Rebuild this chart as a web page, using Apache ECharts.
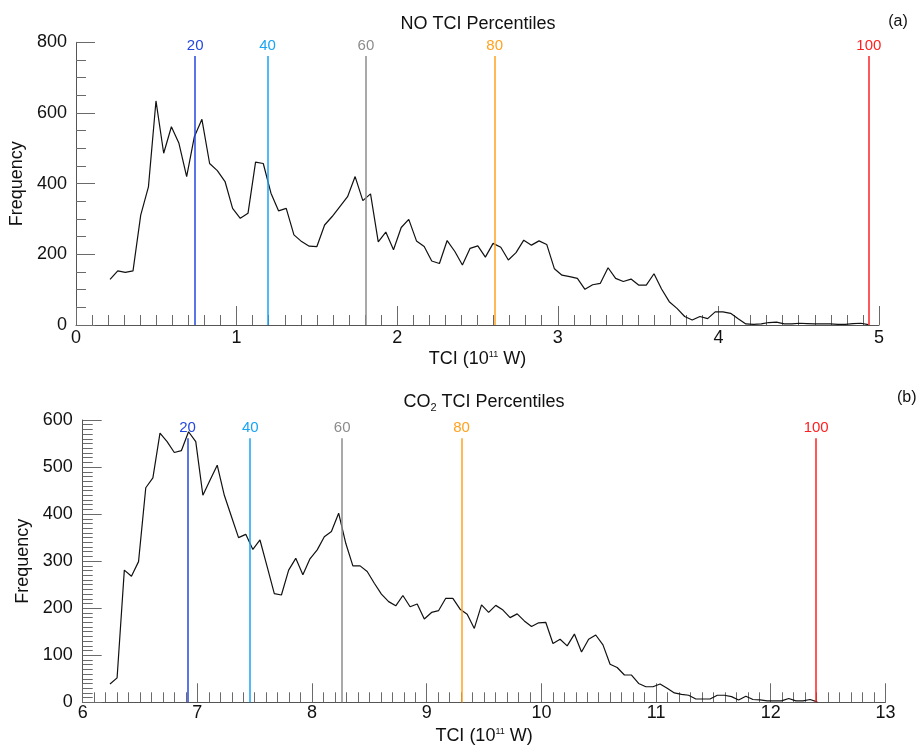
<!DOCTYPE html>
<html>
<head>
<meta charset="utf-8">
<script src="https://cdn.jsdelivr.net/npm/echarts@6/dist/echarts.min.js"></script>
<style>
html,body{margin:0;padding:0;background:#fff;}
#chart{width:919px;height:747px;}
</style>
</head>
<body>
<div id="chart"></div>
<script>
// ---- Data ----
const noX = [0.212,0.260,0.307,0.355,0.403,0.451,0.498,0.546,0.594,0.641,
  0.689,0.737,0.784,0.832,0.880,0.928,0.975,1.023,1.071,1.118,
  1.166,1.214,1.261,1.309,1.357,1.405,1.452,1.500,1.548,1.595,
  1.643,1.691,1.738,1.786,1.834,1.882,1.929,1.977,2.025,2.072,
  2.120,2.168,2.215,2.263,2.311,2.359,2.406,2.454,2.502,2.549,
  2.597,2.645,2.692,2.740,2.788,2.836,2.883,2.931,2.979,3.026,
  3.074,3.122,3.169,3.217,3.265,3.313,3.360,3.408,3.456,3.503,
  3.551,3.599,3.646,3.694,3.742,3.790,3.837,3.885,3.933,3.980,
  4.028,4.076,4.123,4.171,4.219,4.267,4.314,4.362,4.410,4.457,
  4.505,4.553,4.600,4.648,4.696,4.744,4.791,4.839,4.887,4.934];
const noFreq = [129,153,149,153,311,391,634,486,561,514,
  420,533,582,457,437,406,330,302,316,461,
  457,373,323,330,255,236,223,222,283,307,
  335,363,420,352,371,235,263,213,276,299,
  238,222,181,174,239,208,170,217,224,192,
  231,220,184,205,240,226,238,228,159,141,
  137,132,101,114,118,162,132,123,130,113,
  113,145,102,66,47,24,14,24,18,37,
  37,33,18,3,2,3,7,8,3,3,
  5,4,3,3,3,2,2,4,5,1];

const co2X = [6.238,6.300,6.363,6.425,6.487,6.550,6.612,6.674,6.736,6.799,
  6.861,6.923,6.986,7.048,7.110,7.173,7.235,7.297,7.359,7.422,
  7.484,7.546,7.609,7.671,7.733,7.796,7.858,7.920,7.982,8.045,
  8.107,8.169,8.232,8.294,8.356,8.419,8.481,8.543,8.605,8.668,
  8.730,8.792,8.855,8.917,8.979,9.042,9.104,9.166,9.228,9.291,
  9.353,9.415,9.478,9.540,9.602,9.665,9.727,9.789,9.851,9.914,
  9.976,10.038,10.101,10.163,10.225,10.288,10.350,10.412,10.474,10.537,
  10.599,10.661,10.724,10.786,10.848,10.911,10.973,11.035,11.097,11.160,
  11.222,11.284,11.347,11.409,11.471,11.534,11.596,11.658,11.720,11.783,
  11.845,11.907,11.970,12.032,12.094,12.157,12.219,12.281,12.343,12.406];
const co2Freq = [39,52,281,268,299,456,477,572,554,531,
  535,575,554,440,472,504,440,395,350,357,
  325,345,288,231,228,281,306,271,305,324,
  352,363,402,338,290,290,278,253,230,214,
  205,227,203,209,177,191,195,221,221,198,
  187,157,207,191,206,196,180,188,173,161,
  169,170,125,134,120,145,107,134,143,122,
  81,74,58,58,40,33,33,39,30,20,
  17,15,7,7,7,15,15,12,5,13,
  6,5,3,3,3,8,3,3,6,1];

const pctLabels = ['20','40','60','80','100'];
const noPct  = [0.742, 1.193, 1.805, 2.607, 4.937];
const co2Pct = [6.915, 7.461, 8.263, 9.304, 12.396];
const pctColors = ['#2446e0','#19a4f5','#8c8c8c','#ffa21f','#ff2020'];

const noXTicks = {min:0, max:5, interval:1};
const noYTicks = {min:0, max:800, interval:200};
const co2XTicks = {min:6, max:13, interval:1};
const co2YTicks = {min:0, max:600, interval:100};
const noPctTop = 761;
const co2PctTop = 561;

// ---- Styling ----
const F = 'Liberation Sans, Arial, Helvetica, sans-serif';
const axisColor = '#555';
const tickColor = '#6a6a6a';
const xName = 'TCI (10{sup|11} W)';
const nameRich = {
  sup: {fontSize: 9, fontFamily: F, color: '#111', verticalAlign: 'top', lineHeight: 18}
};

function xAxisCfg(grid, t, margin) {
  return {
    gridIndex: grid, type: 'value', min: t.min, max: t.max, interval: t.interval,
    axisLine: {show: true, onZero: false, lineStyle: {color: axisColor, width: 1}},
    axisTick: {show: true, inside: true, length: 19, lineStyle: {color: tickColor, width: 1}},
    minorTick: {show: true, splitNumber: 10, length: 10, lineStyle: {color: tickColor, width: 1}},
    splitLine: {show: false},
    axisLabel: {margin: margin, fontSize: 18, color: '#111', fontFamily: F},
    name: xName, nameLocation: 'middle', nameGap: 25,
    nameTextStyle: {fontSize: 18, color: '#111', fontFamily: F, lineHeight: 18, rich: nameRich}
  };
}
function yAxisCfg(grid, t, minorSplit, margin) {
  return {
    gridIndex: grid, type: 'value', min: t.min, max: t.max, interval: t.interval,
    axisLine: {show: true, onZero: false, lineStyle: {color: axisColor, width: 1}},
    axisTick: {show: true, inside: true, length: 19, lineStyle: {color: tickColor, width: 1}},
    minorTick: {show: true, splitNumber: minorSplit, length: 10, lineStyle: {color: tickColor, width: 1}},
    splitLine: {show: false},
    axisLabel: {margin: margin, fontSize: 18, color: '#111', fontFamily: F},
    name: 'Frequency', nameLocation: 'middle', nameGap: 50,
    nameTextStyle: {fontSize: 18, color: '#111', fontFamily: F}
  };
}
function pctMarkLine(vals, top) {
  return {
    silent: true, symbol: 'none', animation: false,
    label: {show: true, position: 'end', formatter: '{b}', fontSize: 15, fontFamily: F, distance: 3},
    lineStyle: {type: 'solid', width: 1.5},
    data: vals.map((v, i) => [
      {coord: [v, 0], name: pctLabels[i], lineStyle: {color: pctColors[i], type: 'solid', width: 1.5},
       label: {color: pctColors[i]}},
      {coord: [v, top]}
    ])
  };
}

const chart = echarts.init(document.getElementById('chart'), null, {renderer: 'canvas'});
chart.setOption({
  animation: false,
  backgroundColor: '#fff',
  grid: [
    {left: 76, top: 42.3, width: 803, height: 282.7},
    {left: 82.7, top: 420, width: 802.7, height: 282.3}
  ],
  xAxis: [xAxisCfg(0, noXTicks, 4), xAxisCfg(1, co2XTicks, 2)],
  yAxis: [yAxisCfg(0, noYTicks, 4, 9), yAxisCfg(1, co2YTicks, 10, 10)],
  graphic: [
    {type: 'text', x: 478, y: 24, style: {text: 'NO TCI Percentiles', font: '18px ' + F, fill: '#111', align: 'center', verticalAlign: 'middle'}},
    {type: 'text', x: 484, y: 402, style: {text: 'CO{sub|2} TCI Percentiles', font: '18px ' + F, fill: '#111', align: 'center', verticalAlign: 'middle',
      rich: {sub: {font: '11px ' + F, fill: '#111', verticalAlign: 'bottom', lineHeight: 22}}}},
    {type: 'text', x: 898, y: 21.5, style: {text: '(a)', font: '16px ' + F, fill: '#111', align: 'center', verticalAlign: 'middle'}},
    {type: 'text', x: 906.7, y: 397.5, style: {text: '(b)', font: '16px ' + F, fill: '#111', align: 'center', verticalAlign: 'middle'}}
  ],
  series: [
    {
      type: 'line', xAxisIndex: 0, yAxisIndex: 0, symbol: 'none', showSymbol: false,
      data: noX.map((x, i) => [x, noFreq[i]]),
      lineStyle: {color: '#111', width: 1.2},
      markLine: pctMarkLine(noPct, noPctTop)
    },
    {
      type: 'line', xAxisIndex: 1, yAxisIndex: 1, symbol: 'none', showSymbol: false,
      data: co2X.map((x, i) => [x, co2Freq[i]]),
      lineStyle: {color: '#111', width: 1.2},
      markLine: pctMarkLine(co2Pct, co2PctTop)
    }
  ]
});
</script>
</body>
</html>
